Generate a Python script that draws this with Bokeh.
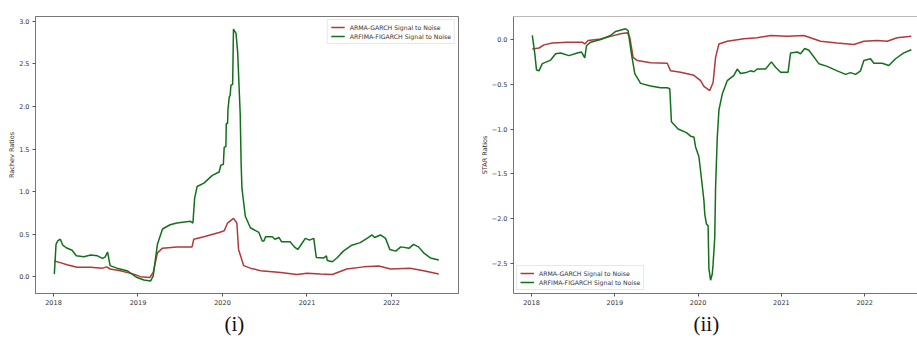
from bokeh.plotting import figure
from bokeh.layouts import row
from bokeh.models import FixedTicker, CustomJSTickFormatter, Title, Span, Range1d
from bokeh.embed import file_html
from bokeh.resources import INLINE

# ---- data: dates as fractional years, ratio values ----
years = [2018, 2019, 2020, 2021, 2022]

rachev_garch_t = [2018.01, 2018.08, 2018.16, 2018.28, 2018.44, 2018.58, 2018.63, 2018.67, 2018.79,
                  2018.95, 2019.03, 2019.14, 2019.18, 2019.23, 2019.29, 2019.46, 2019.64, 2019.66,
                  2019.78, 2019.96, 2020.02, 2020.06, 2020.13, 2020.17, 2020.19, 2020.25, 2020.33,
                  2020.45, 2020.69, 2020.88, 2021.00, 2021.16, 2021.30, 2021.47, 2021.67, 2021.85,
                  2021.99, 2022.22, 2022.38, 2022.56]
rachev_garch_v = [0.185, 0.165, 0.14, 0.11, 0.11, 0.10, 0.115, 0.09, 0.07,
                  0.03, 0.0, -0.01, 0.05, 0.28, 0.335, 0.35, 0.35, 0.44,
                  0.47, 0.52, 0.54, 0.63, 0.685, 0.63, 0.32, 0.13, 0.10,
                  0.07, 0.05, 0.025, 0.04, 0.03, 0.025, 0.09, 0.115, 0.125,
                  0.09, 0.10, 0.07, 0.03]

rachev_figarch_t = [2018.01, 2018.03, 2018.05, 2018.08, 2018.11, 2018.15, 2018.22, 2018.27, 2018.36,
                    2018.44, 2018.52, 2018.58, 2018.61, 2018.64, 2018.67, 2018.75, 2018.87, 2018.99,
                    2019.07, 2019.15, 2019.18, 2019.23, 2019.29, 2019.38, 2019.46, 2019.62, 2019.65,
                    2019.67, 2019.70, 2019.78, 2019.88, 2019.96, 2019.98, 2020.01, 2020.02, 2020.04,
                    2020.045, 2020.06, 2020.065, 2020.08, 2020.09, 2020.10, 2020.12, 2020.13, 2020.16,
                    2020.18, 2020.21, 2020.22, 2020.23, 2020.27, 2020.33, 2020.43, 2020.47, 2020.49,
                    2020.51, 2020.59, 2020.62, 2020.67, 2020.70, 2020.80, 2020.85, 2020.89, 2020.92,
                    2020.98, 2021.03, 2021.08, 2021.11, 2021.20, 2021.23, 2021.24, 2021.30, 2021.36,
                    2021.43, 2021.53, 2021.63, 2021.71, 2021.77, 2021.80, 2021.87, 2021.93, 2021.98,
                    2022.05, 2022.11, 2022.21, 2022.26, 2022.32, 2022.38, 2022.46, 2022.56]
rachev_figarch_v = [0.03, 0.38, 0.42, 0.44, 0.37, 0.34, 0.31, 0.245, 0.235,
                    0.255, 0.245, 0.215, 0.23, 0.29, 0.13, 0.10, 0.07, -0.01,
                    -0.04, -0.05, 0.01, 0.38, 0.56, 0.61, 0.63, 0.65, 0.63,
                    0.92, 1.06, 1.10, 1.19, 1.23, 1.31, 1.32, 1.52, 1.53,
                    1.80, 1.80, 1.97, 2.11, 2.13, 2.25, 2.26, 2.91, 2.86,
                    2.63, 1.90, 1.35, 1.04, 0.71, 0.575, 0.52, 0.42, 0.42,
                    0.47, 0.47, 0.44, 0.46, 0.41, 0.41, 0.35, 0.32, 0.36,
                    0.45, 0.43, 0.45, 0.225, 0.22, 0.245, 0.19, 0.175, 0.225,
                    0.30, 0.37, 0.40, 0.45, 0.49, 0.46, 0.49, 0.45, 0.32,
                    0.30, 0.35, 0.335, 0.38, 0.35, 0.28, 0.22, 0.195]

star_garch_t = [2018.01, 2018.09, 2018.15, 2018.25, 2018.43, 2018.61, 2018.64, 2018.68, 2018.83,
                2018.95, 2019.07, 2019.15, 2019.18, 2019.22, 2019.27, 2019.43, 2019.63, 2019.67,
                2019.79, 2019.95, 2020.03, 2020.07, 2020.14, 2020.18, 2020.21, 2020.25, 2020.35,
                2020.55, 2020.71, 2020.87, 2021.07, 2021.27, 2021.47, 2021.67, 2021.87, 2021.99,
                2022.15, 2022.27, 2022.39, 2022.56]
star_garch_v = [-0.105, -0.095, -0.06, -0.04, -0.03, -0.03, -0.05, -0.01, 0.005,
                0.035, 0.065, 0.075, 0.025, -0.20, -0.235, -0.26, -0.265, -0.35,
                -0.365, -0.40, -0.46, -0.525, -0.57, -0.48, -0.20, -0.05, -0.02,
                0.008, 0.02, 0.045, 0.035, 0.045, -0.02, -0.04, -0.055, -0.02,
                -0.01, -0.02, 0.02, 0.035]

star_figarch_t = [2018.01, 2018.04, 2018.06, 2018.09, 2018.13, 2018.23, 2018.29, 2018.35, 2018.45,
                  2018.55, 2018.60, 2018.64, 2018.66, 2018.71, 2018.83, 2018.95, 2019.01, 2019.13,
                  2019.16, 2019.20, 2019.24, 2019.31, 2019.43, 2019.55, 2019.63, 2019.66, 2019.68,
                  2019.76, 2019.86, 2019.91, 2019.95, 2019.97, 2020.01, 2020.04, 2020.07, 2020.08,
                  2020.10, 2020.12, 2020.13, 2020.15, 2020.17, 2020.18, 2020.20, 2020.21, 2020.23,
                  2020.25, 2020.29, 2020.35, 2020.43, 2020.47, 2020.51, 2020.59, 2020.63, 2020.67,
                  2020.71, 2020.81, 2020.88, 2020.93, 2020.99, 2021.08, 2021.11, 2021.19, 2021.23,
                  2021.28, 2021.33, 2021.45, 2021.55, 2021.67, 2021.77, 2021.83, 2021.89, 2021.95,
                  2021.99, 2022.07, 2022.11, 2022.21, 2022.29, 2022.37, 2022.47, 2022.56]
star_figarch_v = [0.045, -0.16, -0.34, -0.35, -0.27, -0.23, -0.16, -0.15, -0.18,
                  -0.15, -0.14, -0.205, -0.07, -0.03, 0.0, 0.045, 0.09, 0.12,
                  0.10, -0.16, -0.38, -0.49, -0.52, -0.54, -0.54, -0.55, -0.92,
                  -1.0, -1.04, -1.08, -1.09, -1.20, -1.31, -1.55, -1.80, -1.95,
                  -2.06, -2.08, -2.56, -2.69, -2.62, -2.51, -2.21, -1.65, -1.10,
                  -0.79, -0.61, -0.46, -0.40, -0.33, -0.38, -0.365, -0.35, -0.36,
                  -0.33, -0.33, -0.25, -0.31, -0.365, -0.365, -0.15, -0.14, -0.16,
                  -0.10, -0.12, -0.27, -0.30, -0.35, -0.39, -0.37, -0.39, -0.35,
                  -0.235, -0.215, -0.265, -0.265, -0.29, -0.215, -0.15, -0.115]

rachev_ticks = [0.0, 0.5, 1.0, 1.5, 2.0, 2.5, 3.0]
star_ticks = [-2.5, -2.0, -1.5, -1.0, -0.5, 0.0]

GARCH_COLOR = "#b03a3a"
FIGARCH_COLOR = "#13701a"
FONT = "DejaVu Sans"
TXT = "#333333"
EDGE = "#777777"

num_fmt = CustomJSTickFormatter(code="return tick.toFixed(1).replace('-', '\u2212');")
year_fmt = CustomJSTickFormatter(code="return tick.toFixed(0);")


def style(p, yticks, ylabel, caption, caption_offset):
    p.grid.visible = False
    p.xaxis.ticker = FixedTicker(ticks=years)
    p.yaxis.ticker = FixedTicker(ticks=yticks)
    p.xaxis.formatter = year_fmt
    p.yaxis.formatter = num_fmt
    for ax in (p.xaxis[0], p.yaxis[0]):
        ax.axis_line_color = EDGE
        ax.major_tick_line_color = "#555555"
        ax.major_tick_out = 3
        ax.major_tick_in = 0
        ax.minor_tick_line_color = None
        ax.major_label_text_font = FONT
        ax.major_label_text_font_size = "6.5px"
        ax.major_label_text_color = TXT
        ax.major_label_standoff = 3
    p.yaxis.axis_label = ylabel
    p.yaxis.axis_label_text_font = FONT
    p.yaxis.axis_label_text_font_size = "6.5px"
    p.yaxis.axis_label_text_font_style = "normal"
    p.yaxis.axis_label_text_color = TXT
    p.yaxis.axis_label_standoff = 0
    # sub-figure caption underneath the date axis
    cap = Title(text=caption, align="left", offset=caption_offset, standoff=5,
                text_font="Liberation Serif", text_font_size="21px",
                text_font_style="normal", text_color="#111111")
    p.add_layout(cap, "below")


def style_legend(p, loc):
    lg = p.legend[0]
    lg.location = loc
    lg.margin = 3
    lg.padding = 3
    lg.spacing = 1
    lg.label_height = 8
    lg.glyph_height = 8
    lg.glyph_width = 14
    lg.label_standoff = 5
    lg.label_text_font = FONT
    lg.label_text_font_size = "6.2px"
    lg.label_text_color = TXT
    lg.border_line_color = "#d0d0d0"
    lg.background_fill_alpha = 0.85


# ---- (i) Rachev ratios ----
p1 = figure(width=472, height=340, output_backend="svg", toolbar_location=None,
            x_range=Range1d(2017.787, 2022.793), y_range=Range1d(-0.198, 3.058),
            min_border_left=35, min_border_right=14, min_border_top=13, min_border_bottom=47)
p1.outline_line_color = EDGE
p1.line(rachev_garch_t, rachev_garch_v, color=GARCH_COLOR, line_width=1.5,
        legend_label="ARMA-GARCH Signal to Noise")
p1.line(rachev_figarch_t, rachev_figarch_v, color=FIGARCH_COLOR, line_width=1.5,
        legend_label="ARFIMA-FIGARCH Signal to Noise")
style(p1, rachev_ticks, "Rachev Ratios", "(i)", 189)
style_legend(p1, "top_right")

# ---- (ii) STAR ratios ----
p2 = figure(width=445, height=340, output_backend="svg", toolbar_location=None,
            x_range=Range1d(2017.784, 2022.634), y_range=Range1d(-2.838, 0.257),
            min_border_left=41, min_border_right=0, min_border_top=16, min_border_bottom=47)
p2.outline_line_color = None
p2.add_layout(Span(location=0.257, dimension="width", line_color=EDGE, line_width=1))
p2.line(star_garch_t, star_garch_v, color=GARCH_COLOR, line_width=1.5,
        legend_label="ARMA-GARCH Signal to Noise")
p2.line(star_figarch_t, star_figarch_v, color=FIGARCH_COLOR, line_width=1.5,
        legend_label="ARFIMA-FIGARCH Signal to Noise")
style(p2, star_ticks, "STAR Ratios", "(ii)", 180)
style_legend(p2, "bottom_left")

layout = row(p1, p2)
open("out.html", "w").write(file_html(layout, INLINE))
